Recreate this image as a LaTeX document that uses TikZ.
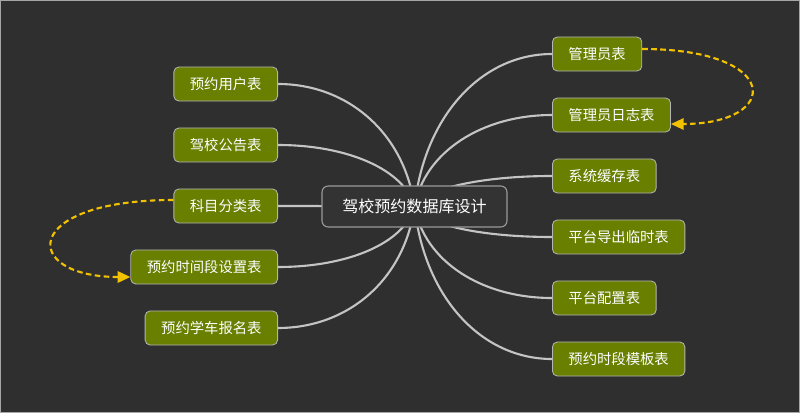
\documentclass[tikz,border=0pt]{standalone}
\usepackage{fontspec}
\setmainfont{Noto Sans CJK SC}
\usepackage{tikz}
\usetikzlibrary{arrows.meta, calc, backgrounds}
\definecolor{fondo}{HTML}{2F2F2F}
\definecolor{oliva}{HTML}{687F00}
\definecolor{borde}{HTML}{B4B4B4}
\definecolor{raiz}{HTML}{333333}
\definecolor{rama}{HTML}{C4C4C4}
\definecolor{ambar}{HTML}{F2C200}
\tikzset{
  every picture/.style={x=0.025cm, y=-0.025cm},
  hoja/.style={draw=borde, fill=oliva, text=white, line width=0.6pt, rounded corners=3.5pt,
               minimum height=0.85cm, inner xsep=0.4cm, font=\fontsize{10.2}{12}\selectfont},
  centro/.style={draw=gray!80, fill=raiz, text=white, line width=0.8pt, rounded corners=4.5pt,
               minimum height=1.025cm, minimum width=4.625cm, font=\fontsize{11.4}{13}\selectfont},
  rama/.style={draw=rama, line width=1.5pt},
  salto/.style={-{Triangle[length=9pt, width=8pt]}, draw=ambar, line width=1.5pt,
               dash pattern=on 4pt off 2.4pt},
}
\begin{document}
\begin{tikzpicture}
  \useasboundingbox (0,0) rectangle (800,413);
  \node[centro] (db) at (414.5,206.5) {驾校预约数据库设计};
  % izquierda
  \node[hoja, anchor=east] (usuario) at (278,84) {预约用户表};
  \node[hoja, anchor=east] (aviso) at (278,145) {驾校公告表};
  \node[hoja, anchor=east] (materia) at (278,206) {科目分类表};
  \node[hoja, anchor=east] (franja) at (278,267) {预约时间段设置表};
  \node[hoja, anchor=east] (inscrip) at (278,328) {预约学车报名表};
  % derecha
  \node[hoja, anchor=west] (admin) at (552,54) {管理员表};
  \node[hoja, anchor=west] (bitacora) at (552,115) {管理员日志表};
  \node[hoja, anchor=west] (cache) at (552,176) {系统缓存表};
  \node[hoja, anchor=west] (temporal) at (552,237) {平台导出临时表};
  \node[hoja, anchor=west] (config) at (552,298) {平台配置表};
  \node[hoja, anchor=west] (plantilla) at (552,359) {预约时段模板表};
  \begin{pgfonlayer}{background}
    \fill[fondo] (0,0) rectangle (800,413);
    \draw[gray!70, line width=0.7pt] (0.5,0.5) rectangle (799.5,412.5);
    \foreach \n/\d in {usuario/-122, aviso/-61, materia/0, franja/61, inscrip/122}
      \draw[rama] (db.center) .. controls +(-10,0.6*\d) and +(70,0) .. (\n.east);
    \foreach \n/\d in {admin/-152, bitacora/-91, cache/-30, temporal/31, config/92, plantilla/153}
      \draw[rama] (db.center) .. controls +(10,0.6*\d) and +(-70,0) .. (\n.west);
  \end{pgfonlayer}
  \draw[salto] ($(materia.west)+(0,-6)$) .. controls +(-154,0) and +(-110,0) .. ($(franja.west)+(0,10)$);
  \draw[salto] ($(admin.east)+(0,-5)$) .. controls +(140,0) and +(111,0) .. ($(bitacora.east)+(0,9)$);
\end{tikzpicture}
\end{document}
